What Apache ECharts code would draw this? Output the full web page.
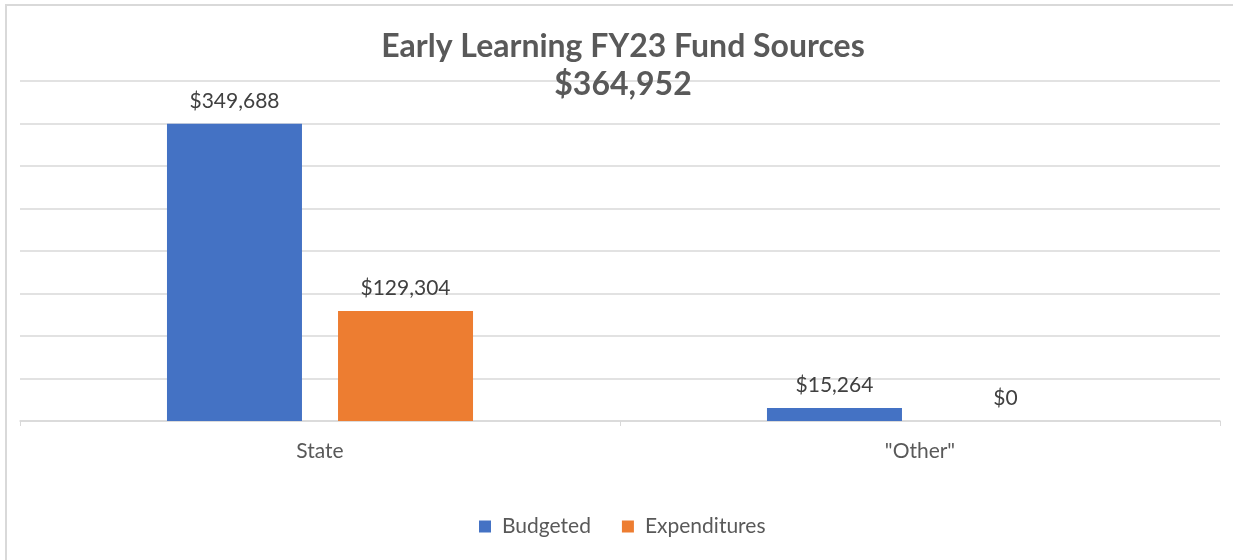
<!DOCTYPE html>
<html>
<head>
<meta charset="utf-8">
<script src="https://cdn.jsdelivr.net/npm/echarts@6/dist/echarts.min.js"></script>
<style>
  html, body { margin: 0; padding: 0; background: #fff; }
  #chart { width: 1233px; height: 560px; }
</style>
</head>
<body>
<div id="chart"></div>
<script>
const categories = ['State', '"Other"'];
const budgeted = [349688, 15264];
const expenditures = [129304, 0];
const seriesNames = ['Budgeted', 'Expenditures'];
const titleText = 'Early Learning FY23 Fund Sources';
const totalText = '$364,952';

const fmt = v => '$' + v.value.toLocaleString('en-US');
const font = 'Lato, "Open Sans", sans-serif';

const chart = echarts.init(document.getElementById('chart'));
chart.setOption({
  animation: false,
  textStyle: { fontFamily: font },
  graphic: [{
    type: 'rect',
    shape: { x: 6, y: 5, width: 1260, height: 600 },
    style: { fill: 'none', stroke: '#d9d9d9', lineWidth: 2 },
    silent: true
  }],
  title: {
    text: titleText + '\n' + totalText,
    left: 618,
    top: 23,
    textAlign: 'center',
    textStyle: { fontFamily: font, fontSize: 32, fontWeight: 'bold', color: '#595959', lineHeight: 38 }
  },
  legend: {
    bottom: 18,
    left: 474,
    itemWidth: 12,
    itemHeight: 12,
    itemGap: 31,
    icon: 'rect',
    textStyle: { fontFamily: font, fontSize: 21, color: '#595959', padding: [0, 0, 0, 6] },
    data: seriesNames
  },
  grid: { left: 20, right: 13, top: 81, bottom: 139, containLabel: false },
  xAxis: {
    type: 'category',
    data: categories,
    axisLine: { lineStyle: { color: '#d9d9d9', width: 1.5 } },
    axisTick: { show: true, length: 5, lineStyle: { color: '#d9d9d9' } },
    axisLabel: { fontFamily: font, fontSize: 21, color: '#595959', margin: 20 }
  },
  yAxis: {
    type: 'value',
    min: 0,
    max: 400000,
    interval: 50000,
    axisLabel: { show: false },
    axisLine: { show: false },
    axisTick: { show: false },
    splitLine: { lineStyle: { color: '#d9d9d9', width: 1.5 } }
  },
  series: [
    {
      name: seriesNames[0],
      type: 'bar',
      data: budgeted,
      barWidth: 135,
      barGap: '26.7%',
      itemStyle: { color: '#4472c4' },
      label: { show: true, position: 'top', distance: 12, formatter: fmt, fontFamily: font, fontSize: 21, color: '#404040' }
    },
    {
      name: seriesNames[1],
      type: 'bar',
      data: expenditures,
      barWidth: 135,
      itemStyle: { color: '#ed7d31' },
      label: { show: true, position: 'top', distance: 12, formatter: fmt, fontFamily: font, fontSize: 21, color: '#404040' }
    }
  ]
});
</script>
</body>
</html>
